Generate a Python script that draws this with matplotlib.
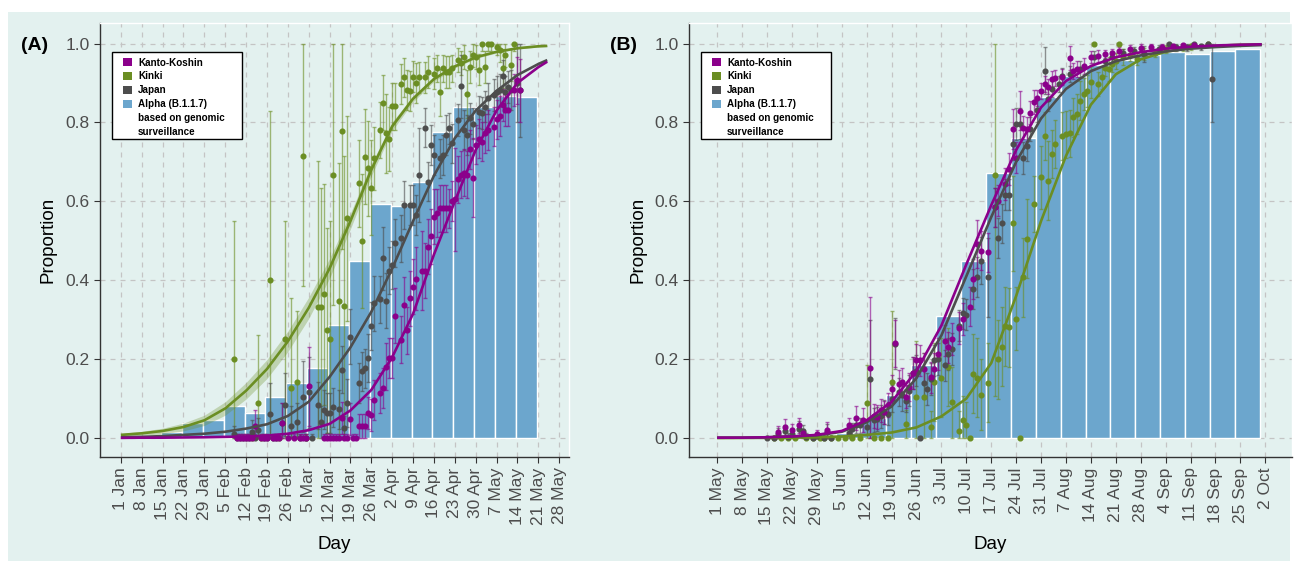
import matplotlib.pyplot as plt
from matplotlib.patches import Patch, Rectangle
from matplotlib.ticker import FormatStrFormatter
import numpy as np

plt.rcParams['font.family'] = ['Liberation Sans', 'DejaVu Sans']

BG = '#E3F1EF'
C_KANTO = '#8B008B'
C_KINKI = '#6B8E23'
C_JAPAN = '#4D4D4D'
C_BAR = '#6CA6CD'

y_ticks = [0.0, 0.2, 0.4, 0.6, 0.8, 1.0]
legend_names = ['Kanto-Koshin', 'Kinki', 'Japan', 'Alpha (B.1.1.7)', 'based on genomic', 'surveillance']

# ---------------- panel A (days since 1 Jan 2021) ----------------
a_tick_labels = ['1 Jan', '8 Jan', '15 Jan', '22 Jan', '29 Jan', '5 Feb', '12 Feb', '19 Feb',
                 '26 Feb', '5 Mar', '12 Mar', '19 Mar', '26 Mar', '2 Apr', '9 Apr', '16 Apr',
                 '23 Apr', '30 Apr', '7 May', '14 May', '21 May', '28 May']

# weekly genomic surveillance (bar centre = Monday)
a_bar_day = [17, 24, 31, 38, 45, 52, 59, 66, 73, 80, 87, 94, 101, 108, 115, 122, 129, 136]
a_bar_val = [0.016, 0.039, 0.046, 0.08, 0.063, 0.103, 0.139, 0.178, 0.286, 0.45, 0.592,
             0.587, 0.649, 0.777, 0.838, 0.84, 0.866, 0.865]

# fitted curves
a_fit_day = [0, 7, 14, 21, 28, 35, 42, 49, 56, 63, 70, 77, 84, 91, 98, 105, 112, 119, 126, 133, 140, 143]
a_kinki_fit = [0.008, 0.012, 0.018, 0.028, 0.045, 0.075, 0.12, 0.175, 0.245, 0.33, 0.43, 0.55,
               0.68, 0.79, 0.86, 0.91, 0.942, 0.965, 0.979, 0.988, 0.993, 0.994]
a_kinki_band = [0.004, 0.005, 0.007, 0.01, 0.013, 0.017, 0.021, 0.024, 0.026, 0.027, 0.025,
                0.02, 0.015, 0.011, 0.008, 0.006, 0.004, 0.003, 0.003, 0.002, 0.002, 0.002]
a_japan_fit = [0.002, 0.003, 0.005, 0.008, 0.011, 0.016, 0.024, 0.035, 0.056, 0.092, 0.155, 0.23,
               0.32, 0.43, 0.55, 0.665, 0.76, 0.83, 0.88, 0.92, 0.948, 0.958]
a_kanto_fit = [0.0005, 0.001, 0.001, 0.0015, 0.002, 0.003, 0.004, 0.006, 0.011, 0.02, 0.036, 0.07,
               0.122, 0.205, 0.315, 0.465, 0.6, 0.73, 0.83, 0.9, 0.94, 0.954]

# daily proportions
a_kinki_day = [38, 44, 46, 47, 50, 53, 55, 57, 59, 61, 62, 66, 67, 68, 69, 70, 71, 73, 74, 75, 76,
               80, 81, 82, 83, 84, 85, 87, 88, 89, 90, 91, 92, 94, 95, 96, 97, 98, 99, 100, 102,
               103, 105, 106, 107, 108, 109, 110, 111, 113, 114, 115, 116, 117, 118, 119, 120,
               121, 122, 123, 124, 126, 127, 128, 129, 131, 132]
a_kinki_val = [.20, 0, .09, 0, .40, 0, .25, .126, .143, .715, 0, .333, .333, .364, .273, .25, .668,
               .348, .779, .335, .557, .646, .50, .713, .684, .635, .709, .781, .85, .772, .758,
               .841, .841, .897, .914, .882, .88, .916, .90, .914, .914, .928, .924, .937, .876,
               .937, .928, .928, .937, .958, .951, .966, .872, .941, .97, .966, .934, 1.0, .941,
               1.0, 1.0, .99, .983, .937, .97, .945, 1.0]
a_kinki_err = [.35, .01, .17, .01, .43, .01, .30, .23, .18, .33, .01, .37, .30, .28, .26, .30, .33,
               .35, .30, .38, .26, .11, .17, .12, .12, .12, .08, .07, .07, .10, .08, .06, .06, .05,
               .05, .05, .05, .04, .05, .04, .04, .04, .04, .035, .06, .035, .04, .04, .035, .03,
               .03, .03, .06, .04, .03, .03, .04, .02, .04, .02, .02, .02, .03, .05, .03, .04, .02]

a_japan_day = [38, 39, 40, 41, 42, 43, 44, 45, 46, 48, 49, 50, 51, 52, 54, 55, 57, 59, 60, 61,
               62, 63, 64, 66, 67, 68, 69, 70, 71, 73, 74, 75, 76, 77, 80, 81, 82, 83, 84, 85,
               87, 88, 89, 90, 91, 92, 94, 95, 97, 98, 99, 100, 102, 103, 104, 105, 107, 108,
               109, 110, 111, 113, 114, 115, 116, 117, 118, 120, 121, 122, 123, 125, 126, 127,
               128, 129, 130, 131, 133, 134]
a_japan_val = [.01, 0, 0, 0, 0, 0, .015, 0, .02, 0, 0, .06, 0, 0, .038, .084, .03, .04, 0, .105,
               0, .116, 0, .083, .04, .072, .063, .063, .078, .073, .173, .025, .089, .257, .139,
               .169, .177, .203, .284, .342, .352, .456, .348, .424, .439, .494, .506, .591, .591,
               .591, .565, .667, .787, .65, .743, .717, .709, .717, .768, .785, .747, .806, .892,
               .781, .768, .81, .797, .827, .824, .84, .861, .869, .878, .882, .917, .878, .89,
               .882, .90, .882]
a_japan_err = [.02, .01, .01, .01, .01, .01, .03, .01, .03, .01, .01, .08, .01, .01, .05, .08, .05,
               .05, .01, .09, .01, .09, .01, .06, .04, .05, .05, .05, .05, .05, .06, .03, .06, .07,
               .05, .05, .05, .06, .06, .07, .06, .08, .07, .06, .06, .06, .06, .06, .05, .05, .05,
               .12, .05, .05, .05, .05, .05, .05, .05, .04, .05, .04, .08, .05, .05, .04, .04, .04,
               .04, .04, .04, .04, .04, .04, .04, .04, .04, .05, .10, .12]

a_kanto_day = [39, 40, 41, 42, 43, 44, 45, 47, 48, 49, 51, 52, 53, 54, 56, 58, 60, 61, 62, 63,
               68, 69, 70, 71, 72, 73, 74, 75, 76, 77, 78, 79, 80, 81, 82, 83, 84, 85, 87, 88,
               89, 90, 91, 92, 94, 95, 96, 97, 98, 99, 101, 102, 103, 104, 105, 106, 107, 108,
               109, 110, 111, 112, 113, 114, 115, 116, 117, 118, 119, 120, 121, 122, 123, 125,
               126, 127, 128, 129, 130, 132, 133, 134]
a_kanto_val = [0, 0, 0, 0, 0, 0, .03, 0, 0, 0, 0, 0, 0, .038, 0, 0, 0, 0, 0, .131, 0, 0, 0, 0, 0,
               0, .051, 0, 0, .048, 0, 0, .03, .031, .03, .063, .059, .097, .114, .127, .181,
               .203, .203, .31, .249, .338, .273, .354, .384, .404, .424, .424, .485, .511, .561,
               .57, .582, .582, .582, .582, .601, .605, .656, .668, .673, .668, .732, .66, .744,
               .759, .751, .772, .781, .789, .808, .816, .844, .831, .831, .882, .907, .882]
a_kanto_err = [.01, .01, .01, .01, .01, .01, .04, .01, .01, .01, .01, .01, .01, .05, .01, .01, .01,
               .01, .01, .10, .01, .01, .01, .01, .01, .01, .04, .01, .01, .04, .01, .01, .03, .03,
               .03, .04, .04, .05, .05, .05, .06, .05, .05, .07, .06, .07, .06, .07, .07, .08, .10,
               .07, .07, .07, .07, .06, .06, .06, .06, .05, .05, .13, .06, .06, .06, .06, .05, .10,
               .05, .05, .05, .05, .05, .05, .05, .05, .04, .04, .04, .04, .06, .08]

# ---------------- panel B (days since 1 May 2021) ----------------
b_tick_labels = ['1 May', '8 May', '15 May', '22 May', '29 May', '5 Jun', '12 Jun', '19 Jun',
                 '26 Jun', '3 Jul', '10 Jul', '17 Jul', '24 Jul', '31 Jul', '7 Aug', '14 Aug',
                 '21 Aug', '28 Aug', '4 Sep', '11 Sep', '18 Sep', '25 Sep', '2 Oct']

b_bar_day = [37, 44, 51, 58, 65, 72, 79, 86, 93, 100, 107, 114, 121, 128, 135, 142, 149]
b_bar_val = [0.013, 0.05, 0.11, 0.185, 0.309, 0.45, 0.673, 0.76, 0.864, 0.918, 0.946, 0.958,
             0.97, 0.978, 0.973, 0.981, 0.987]

b_fit_day = [0, 7, 14, 21, 28, 35, 42, 49, 56, 63, 70, 77, 84, 91, 98, 105, 112, 119, 126, 133,
             140, 147, 153]
b_kanto_fit = [.001, .001, .002, .004, .008, .018, .045, .092, .17, .285, .44, .59, .73, .838,
               .905, .943, .965, .978, .987, .992, .995, .997, .998]
b_japan_fit = [.001, .001, .002, .004, .007, .016, .04, .08, .152, .26, .41, .56, .70, .81, .885,
               .93, .955, .97, .98, .987, .991, .994, .996]
b_kinki_fit = [0, .0003, .0006, .001, .002, .004, .008, .014, .027, .055, .10, .19, .36, .55,
               .715, .845, .922, .96, .979, .989, .994, .997, .998]

b_kinki_day = [16, 18, 20, 22, 25, 27, 29, 30, 32, 34, 36, 38, 40, 42, 44, 46, 48, 49, 53, 56,
               58, 60, 61, 63, 65, 66, 68, 69, 70, 71, 72, 73, 74, 76, 78, 79, 80, 81, 82, 83,
               84, 85, 86, 87, 89, 91, 92, 93, 94, 95, 97, 98, 99, 100, 101, 102, 103, 104, 105,
               106, 107, 108, 109, 110, 111, 112, 113, 114, 116, 118, 120, 123, 126, 131, 133, 138]
b_kinki_val = [0, 0, 0, 0, 0, 0, 0, 0, 0, 0, 0, 0, 0, .089, 0, 0, 0, .143, .036, .105,
               .105, .028, .142, .153, .18, .091, .019, .047, .032, 0, .163, .153, .11, .14, .667,
               .2, .232, .283, .281, .544, .302, 0, .408, .505, .593, .661, .766, .652, .72, .745,
               .766, .77, .772, .813, .821, .855, .872, .88, .903, 1.0, .897, .914, .937, .935,
               .949, .956, 1.0, .965, .97, .96, .973, .977, .986, .99, .994, .998]
b_kinki_err = [.005, .005, .005, .005, .005, .005, .005, .005, .005, .005, .005, .005, .005, .095,
               .005, .005, .005, .18, .035, .14, .11, .04, .1, .1, .1, .09, .05, .06, .06, .005,
               .1, .1, .09, .1, .56, .1, .1, .1, .1, .12, .08, .005, .1, .1, .07, .08, .06, .1, .06,
               .06, .06, .06, .06, .05, .05, .05, .04, .04, .04, .005, .03, .03, .02, .03, .02,
               .02, .005, .02, .015, .015, .015, .01, .01, .01, .01, .005]

b_japan_day = [14, 16, 17, 19, 20, 21, 23, 24, 25, 27, 28, 30, 31, 32, 37, 38, 39, 40, 42, 43,
               44, 45, 46, 47, 48, 49, 50, 51, 52, 53, 54, 55, 56, 57, 58, 59, 60, 61, 62, 64,
               65, 66, 68, 69, 70, 72, 73, 74, 76, 78, 79, 80, 81, 82, 83, 84, 85, 86, 87, 88,
               90, 92, 93, 94, 96, 97, 99, 102, 106, 109, 111, 114, 117, 120, 124, 127, 129, 132,
               134, 136, 138, 139]
b_japan_val = [0, 0, .011, .018, .003, .011, .024, .018, .003, 0, .005, 0, .015, 0, .014, .024,
               .032, .032, .028, .15, .045, .049, .055, .066, .062, .1, .239, .116, .108, .095,
               .12, .165, .171, 0, .14, .125, .15, .197, .2, .184, .213, .226, .285, .316, .313,
               .378, .408, .45, .408, .585, .507, .544, .617, .617, .745, .796, .797, .71, .741,
               .783, .831, .931, .859, .884, .897, .918, .922, .935, .966, .956, .965, .975, .98,
               .973, .985, 1.0, .99, .99, 1.0, .994, 1.0, .91]
b_japan_err = [.005, .005, .015, .015, .01, .015, .02, .015, .01, .005, .01, .005, .02, .005, .015,
               .015, .02, .02, .02, .15, .03, .03, .03, .03, .03, .035, .065, .035, .04, .03, .04,
               .04, .04, .005, .04, .04, .04, .04, .04, .04, .04, .04, .04, .04, .04, .05, .05,
               .06, .1, .05, .05, .05, .04, .04, .04, .04, .04, .04, .04, .03, .03, .06, .03, .02,
               .02, .02, .02, .02, .015, .015, .015, .01, .01, .02, .01, .005, .01, .01, .005,
               .01, .005, .11]

b_kanto_day = [17, 19, 21, 23, 24, 28, 31, 37, 39, 41, 43, 44, 45, 46, 47, 48, 49, 50, 51, 52,
               53, 54, 55, 56, 57, 58, 60, 61, 62, 64, 65, 66, 68, 69, 71, 72, 73, 74, 76, 78,
               79, 81, 82, 83, 84, 85, 86, 87, 88, 89, 90, 91, 92, 93, 94, 95, 97, 99, 100, 101,
               103, 105, 107, 109, 111, 113, 116, 119, 122, 125, 128, 131, 134]
b_kanto_val = [.015, .028, .02, .032, .012, .01, .021, .032, .051, .045, .177, .056, .054, .07,
               .065, .083, .125, .24, .138, .142, .105, .129, .165, .198, .197, .176, .154, .176,
               .213, .247, .23, .251, .279, .302, .333, .403, .492, .475, .471, .585, .602, .644,
               .682, .783, .711, .83, .787, .783, .825, .851, .862, .88, .897, .891, .91, .912,
               .916, .963, .931, .935, .943, .965, .969, .973, .977, .98, .985, .988, .99, .992,
               .993, .995, .996]
b_kanto_err = [.015, .02, .015, .02, .012, .01, .02, .02, .03, .03, .18, .03, .03, .03, .03, .03,
               .035, .06, .035, .035, .03, .035, .04, .04, .04, .04, .04, .04, .04, .04, .04, .04,
               .04, .04, .05, .05, .06, .05, .05, .05, .04, .04, .04, .05, .04, .05, .03, .03, .03,
               .03, .02, .02, .02, .02, .02, .02, .02, .03, .02, .02, .02, .015, .015, .01, .01,
               .01, .01, .01, .01, .01, .01, .005, .005]

LEGEND_PROP = {'family': 'Liberation Sans', 'weight': 'bold', 'size': 7.1}


def draw_points(ax, day, val, err, color):
    v = np.array(val)
    e = np.array(err)
    lo = np.clip(v - e, 0, 1)
    hi = np.clip(v + e, 0, 1)
    ax.errorbar(day, v, yerr=[v - lo, hi - v], fmt='none', ecolor=color, elinewidth=1.0,
                capsize=1.6, capthick=1.0, alpha=0.6, zorder=3)
    ax.plot(day, v, 'o', ms=3.4, color=color, zorder=4)


def style_axis(ax, labels, xlim):
    ax.set_facecolor(BG)
    ax.set_xlim(*xlim)
    ax.set_ylim(-0.048, 1.052)
    ax.set_xticks(np.arange(len(labels)) * 7)
    ax.set_xticklabels(labels, rotation=90)
    ax.set_yticks(y_ticks)
    ax.yaxis.set_major_formatter(FormatStrFormatter('%.1f'))
    ax.set_axisbelow(True)
    ax.grid(True, color='#c4c4c4', linestyle=(0, (4, 4)), linewidth=0.9)
    for s in ['left', 'bottom']:
        ax.spines[s].set_color('#333333')
        ax.spines[s].set_linewidth(1.0)
    for s in ['top', 'right']:
        ax.spines[s].set_color('white')
        ax.spines[s].set_linewidth(1.0)
    ax.tick_params(length=4, color='#333333', labelcolor='#4d4d4d', labelsize=12.5)
    ax.set_xlabel('Day', fontsize=13.5, labelpad=8)
    ax.set_ylabel('Proportion', fontsize=13.5, labelpad=6)

    # legend: white box 130 x 87 px, 12 px right of the y axis and 29 px below the panel top
    w_px = ax.get_position().width * 1296
    h_px = ax.get_position().height * 561
    bx, by, bw, bh = 12 / w_px, 1 - (29 + 87) / h_px, 130 / w_px, 87 / h_px
    ax.add_patch(Rectangle((bx, by), bw, bh, transform=ax.transAxes, facecolor='white',
                           edgecolor='black', linewidth=1.0, zorder=9, clip_on=False))
    handles = [Patch(facecolor=C_KANTO, edgecolor='none'),
               Patch(facecolor=C_KINKI, edgecolor='none'),
               Patch(facecolor=C_JAPAN, edgecolor='none'),
               Patch(facecolor=C_BAR, edgecolor='none'),
               Patch(facecolor='none', edgecolor='none'),
               Patch(facecolor='none', edgecolor='none')]
    leg = ax.legend(handles, legend_names, loc='upper left',
                    bbox_to_anchor=(bx + 10.5 / w_px, 1 - 34.5 / h_px),
                    frameon=False, handlelength=0.92, handleheight=0.92, handletextpad=0.65,
                    labelspacing=0.4, borderpad=0.0, borderaxespad=0.0, prop=LEGEND_PROP)
    leg.set_zorder(10)


fig = plt.figure(figsize=(12.96, 5.61), dpi=100, facecolor='white')
fig.patches.append(Rectangle((8 / 1296, 0), 1282 / 1296, 549 / 561, transform=fig.transFigure,
                             facecolor=BG, edgecolor='none', zorder=-10))

axA = fig.add_axes([100 / 1296, 1 - 457 / 561, 469 / 1296, 434 / 561])
axA.bar(a_bar_day, a_bar_val, width=7, color=C_BAR, edgecolor='white', linewidth=1.0, zorder=1)
fd = np.array(a_fit_day)
axA.fill_between(fd, np.array(a_kinki_fit) - np.array(a_kinki_band),
                 np.array(a_kinki_fit) + np.array(a_kinki_band), color=C_KINKI, alpha=0.3,
                 linewidth=0, zorder=2)
draw_points(axA, a_kinki_day, a_kinki_val, a_kinki_err, C_KINKI)
draw_points(axA, a_japan_day, a_japan_val, a_japan_err, C_JAPAN)
draw_points(axA, a_kanto_day, a_kanto_val, a_kanto_err, C_KANTO)
axA.plot(fd, a_kinki_fit, color=C_KINKI, lw=1.9, zorder=5, solid_capstyle='butt')
axA.plot(fd, a_japan_fit, color=C_JAPAN, lw=1.9, zorder=5, solid_capstyle='butt')
axA.plot(fd, a_kanto_fit, color=C_KANTO, lw=1.9, zorder=5, solid_capstyle='butt')
style_axis(axA, a_tick_labels, (-7, 150.3))

axB = fig.add_axes([689 / 1296, 1 - 457 / 561, 603 / 1296, 434 / 561])
axB.bar(b_bar_day, b_bar_val, width=7, color=C_BAR, edgecolor='white', linewidth=1.0, zorder=1)
draw_points(axB, b_kinki_day, b_kinki_val, b_kinki_err, C_KINKI)
draw_points(axB, b_japan_day, b_japan_val, b_japan_err, C_JAPAN)
draw_points(axB, b_kanto_day, b_kanto_val, b_kanto_err, C_KANTO)
axB.plot(b_fit_day, b_kinki_fit, color=C_KINKI, lw=1.9, zorder=5, solid_capstyle='butt')
axB.plot(b_fit_day, b_japan_fit, color=C_JAPAN, lw=1.9, zorder=5, solid_capstyle='butt')
axB.plot(b_fit_day, b_kanto_fit, color=C_KANTO, lw=1.9, zorder=5, solid_capstyle='butt')
style_axis(axB, b_tick_labels, (-7.9, 161.5))

fig.text(21 / 1296, 1 - 46 / 561, '(A)', fontsize=14, fontweight='bold', va='center')
fig.text(610 / 1296, 1 - 46 / 561, '(B)', fontsize=14, fontweight='bold', va='center')

fig.savefig('out.png', dpi=100, facecolor=fig.get_facecolor())
